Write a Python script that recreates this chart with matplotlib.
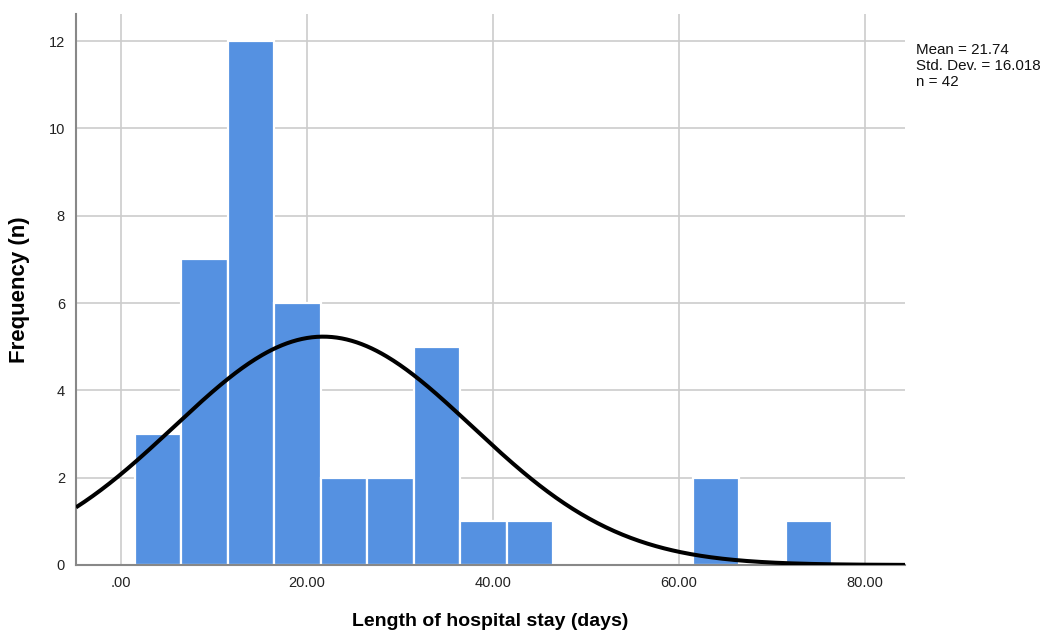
import numpy as np
import matplotlib
matplotlib.use("Agg")
import matplotlib.pyplot as plt

# Histogram of length of hospital stay (5-day bins)
bin_edges = [1.5, 6.5, 11.5, 16.5, 21.5, 26.5, 31.5, 36.5, 41.5, 46.5,
             51.5, 56.5, 61.5, 66.5, 71.5, 76.5]
counts = [3, 7, 12, 6, 2, 2, 5, 1, 1, 0, 0, 0, 2, 0, 1]

mean = 21.74
std_dev = 16.018
n_cases = 42

x_ticks = [0, 20, 40, 60, 80]
x_tick_labels = [".00", "20.00", "40.00", "60.00", "80.00"]
y_ticks = [0, 2, 4, 6, 8, 10, 12]

plt.rcParams["font.family"] = ["Liberation Sans", "DejaVu Sans"]

fig = plt.figure(figsize=(10.49, 6.35), dpi=100)
ax = fig.add_axes([76 / 1049, 70 / 635, (905 - 76) / 1049, (621 - 70) / 635])

lefts = np.array(bin_edges[:-1])
widths = np.diff(bin_edges)
ax.bar(lefts, counts, width=widths, align="edge", color="#5591e1",
       edgecolor="white", linewidth=1.6, zorder=2)

# Fitted normal curve scaled to counts per bin
bw = widths[0]
xs = np.linspace(-4.84, 84.3, 500)
ys = n_cases * bw * np.exp(-0.5 * ((xs - mean) / std_dev) ** 2) / (std_dev * np.sqrt(2 * np.pi))
ax.plot(xs, ys, color="black", linewidth=2.9, zorder=3, solid_capstyle="butt")

ax.set_xlim(-4.84, 84.3)
ax.set_ylim(0, 12.62)
ax.set_xticks(x_ticks)
ax.set_xticklabels(x_tick_labels)
ax.set_yticks(y_ticks)
ax.tick_params(length=0, labelsize=10.5, colors="#222222", pad=8)
ax.grid(True, color="#cccccc", linewidth=1.2, zorder=0)
ax.set_axisbelow(True)

for side in ("top", "right"):
    ax.spines[side].set_visible(False)
for side in ("left", "bottom"):
    ax.spines[side].set_color("#888888")
    ax.spines[side].set_linewidth(1.5)

ax.set_xlabel("Length of hospital stay (days)", fontsize=14, fontweight="bold", va="top")
ax.xaxis.set_label_coords(0.5, -48 / 551)
ax.set_ylabel("Frequency (n)", fontsize=16, fontweight="bold", va="center")
ax.yaxis.set_label_coords(-56 / 829, 0.5)

fig.text(916 / 1049, 1 - 43 / 635,
         f"Mean = {mean:.2f}\nStd. Dev. = {std_dev:.3f}\nn = {n_cases}",
         fontsize=10.9, va="top", ha="left", linespacing=1.2, color="#111111")

fig.savefig("out.png", dpi=100)
